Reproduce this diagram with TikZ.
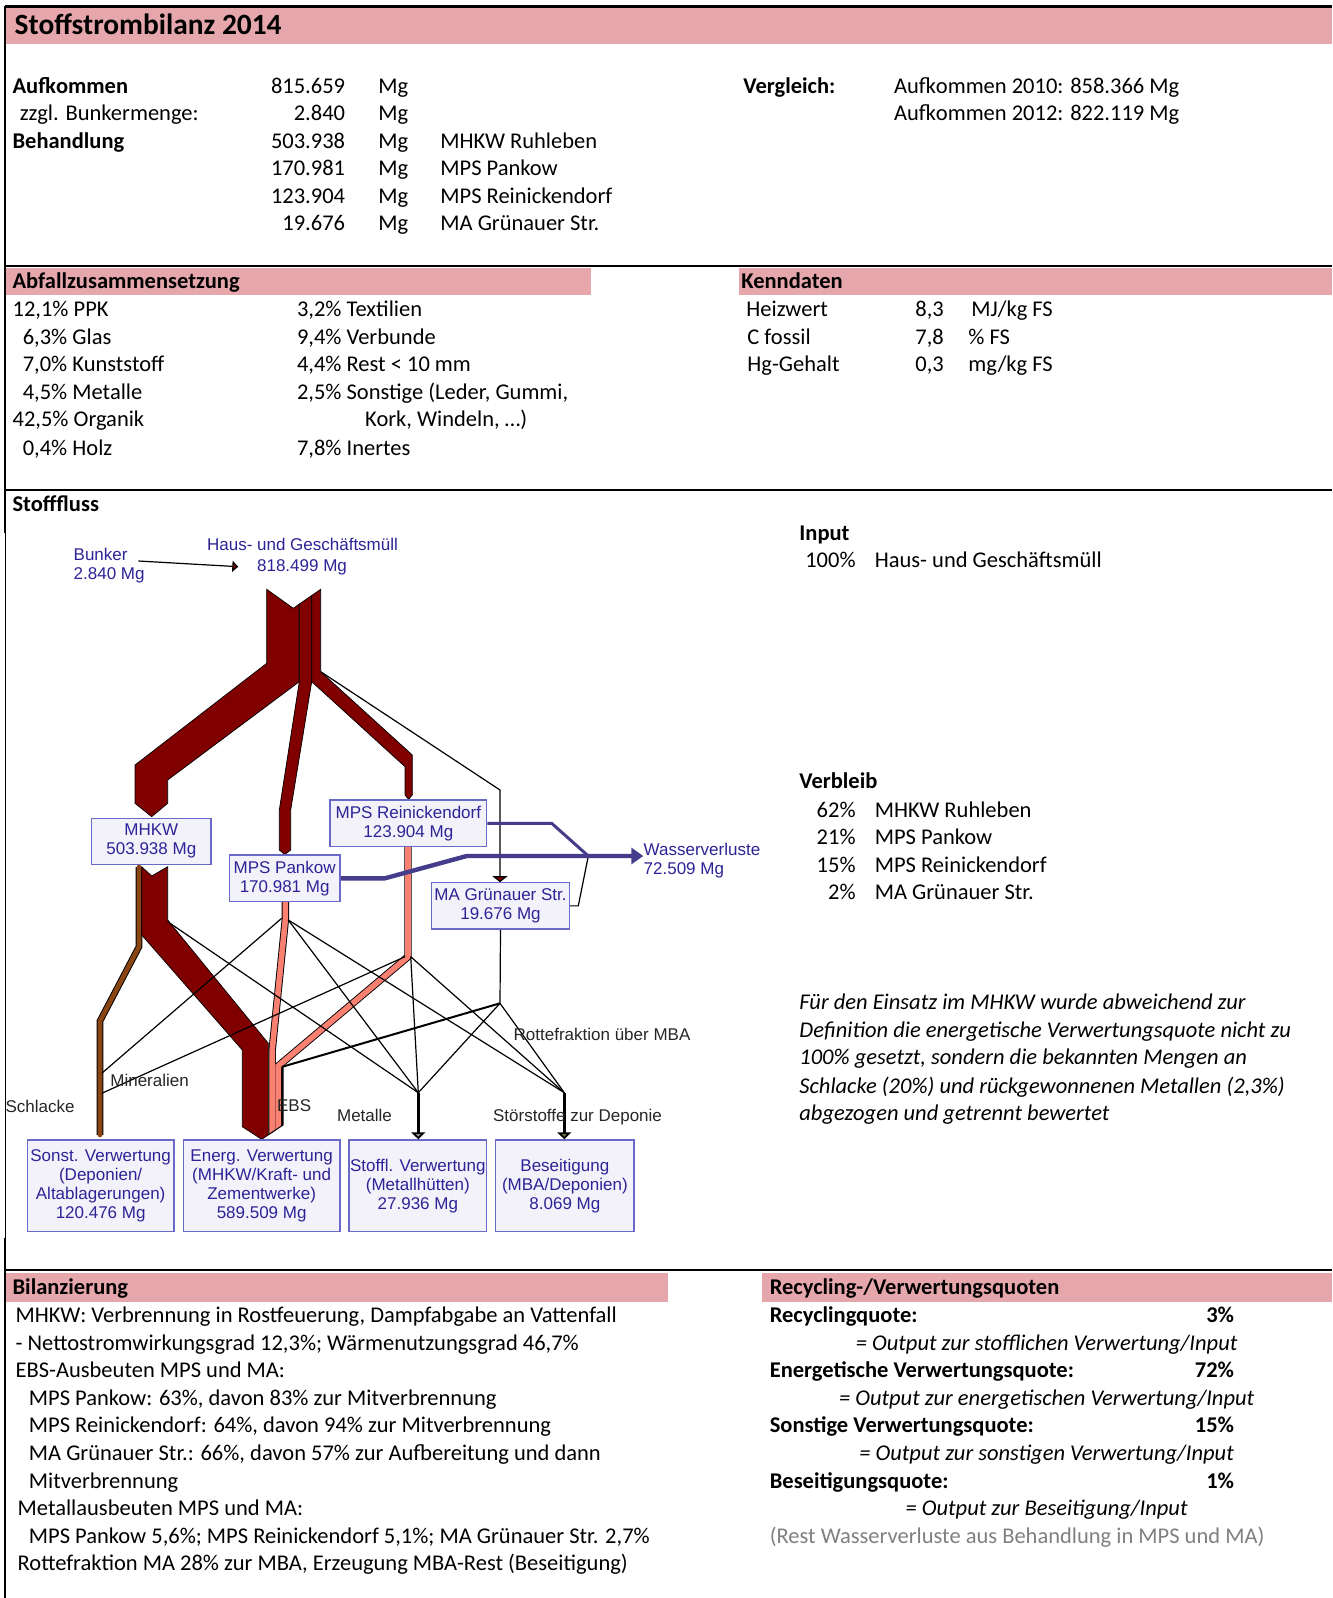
\documentclass[tikz,border=0pt]{standalone}
\usepackage{fontspec}
\setmainfont{Carlito}
\newfontfamily\stanfont{Liberation Sans}
\usetikzlibrary{arrows.meta}

\definecolor{bandpink}{RGB}{230,167,172}
\definecolor{flowred}{RGB}{128,0,0}
\definecolor{ebs}{RGB}{250,128,114}
\definecolor{slag}{RGB}{139,69,19}
\definecolor{stanblue}{RGB}{45,35,150}
\definecolor{boxline}{RGB}{105,105,200}
\definecolor{boxfill}{RGB}{243,242,250}
\definecolor{water}{RGB}{70,60,140}
\definecolor{notegray}{RGB}{128,128,128}
\definecolor{tipgray}{RGB}{150,150,150}
\definecolor{tipolive}{RGB}{110,130,70}

\tikzset{
  body/.style={inner sep=0pt, anchor=base west, font=\fontsize{11.25}{13.8}\selectfont},
  bodyb/.style={body, font=\fontsize{11.25}{13.8}\selectfont\bfseries},
  bodyi/.style={body, font=\fontsize{11.25}{13.8}\selectfont\itshape},
  rnum/.style={body, anchor=base east},
  rnumb/.style={bodyb, anchor=base east},
  hdtitle/.style={inner sep=0pt, anchor=base west, font=\fontsize{14.7}{17}\selectfont\bfseries},
  frameline/.style={line width=1.2pt, black},
  headband/.style={fill=bandpink},
  stan/.style={inner sep=0pt, font=\stanfont\fontsize{8.5}{9.6}\selectfont},
  stanlbl/.style={stan, text=stanblue, anchor=base west},
  flowlbl/.style={stan, text=black!85, anchor=base west},
  stanbox/.style={draw=boxline, fill=boxfill, line width=0.75pt, stan, text=stanblue, align=center},
  sankey/.style={fill=flowred, draw=black, line width=0.35pt, line join=miter},
  flowthin/.style={black, line width=0.6pt},
  flowmid/.style={black, line width=1pt},
}

\begin{document}
\begin{tikzpicture}[x=0.5pt,y=-0.5pt]
\useasboundingbox (0,0) rectangle (1332,1598);
\fill[white] (0,0) rectangle (1332,1598);

% ---------- section headers ----------
\fill[headband] (5,8) rectangle (1332,44);
\fill[headband] (5,268) rectangle (591,295.5);
\fill[headband] (739,268) rectangle (1332,295.5);
\fill[headband] (5,1273) rectangle (667.5,1301.5);
\fill[headband] (762,1273) rectangle (1332,1301.5);

% ---------- frame ----------
\draw[frameline] (5,6.5) -- (1332,6.5);
\draw[frameline] (5,266) -- (1332,266);
\draw[frameline] (5,490) -- (1332,490);
\draw[frameline] (5,1270) -- (1332,1270);
\draw[frameline] (5,6) -- (5,533);
\draw[black, line width=0.5pt] (5,533) -- (5,1238);
\draw[frameline] (5,1238) -- (5,1598);

% ---------- title and totals ----------
\node[hdtitle] (ttl) at (14.3,35) {Stoffstrombilanz 2014};

\node[bodyb] (aufk) at (12.2,93.5) {Aufkommen};
\node[rnum] (aufkv) at (345.5,93.5) {815.659};
\node[body] (aufku) at (378,93.5) {Mg};
\node[body] (bunk) at (19.4,121) {zzgl. Bunkermenge:};
\node[rnum] (bunkv) at (345.5,121) {2.840};
\node[body] (bunku) at (378,121) {Mg};
\node[bodyb] (beh) at (12.2,148.5) {Behandlung};
\node[rnum] (behv1) at (345.5,148.5) {503.938};
\node[body] (behu1) at (378,148.5) {Mg};
\node[body] (behn1) at (440,148.5) {MHKW Ruhleben};
\node[rnum] (behv2) at (345.5,176) {170.981};
\node[body] (behu2) at (378,176) {Mg};
\node[body] (behn2) at (440,176) {MPS Pankow};
\node[rnum] (behv3) at (345.5,203.5) {123.904};
\node[body] (behu3) at (378,203.5) {Mg};
\node[body] (behn3) at (440,203.5) {MPS Reinickendorf};
\node[rnum] (behv4) at (345.5,231) {19.676};
\node[body] (behu4) at (378,231) {Mg};
\node[body] (behn4) at (440,231) {MA Grünauer Str.};

\node[bodyb] (vgl) at (743,93.5) {Vergleich:};
\node[body] (vgl1) at (893.7,93.5) {Aufkommen 2010: 858.366 Mg};
\node[body] (vgl2) at (893.7,121) {Aufkommen 2012: 822.119 Mg};

% ---------- composition ----------
\node[bodyb] (abf) at (12.2,289) {Abfallzusammensetzung};
\node[body] (a1) at (12.2,317) {12,1\% PPK};
\node[body] (a2) at (22.4,344.5) {6,3\% Glas};
\node[body] (a3) at (22.4,372) {7,0\% Kunststoff};
\node[body] (a4) at (22.4,399.5) {4,5\% Metalle};
\node[body] (a5) at (12.2,427) {42,5\% Organik};
\node[body] (a6) at (22.4,455.5) {0,4\% Holz};
\node[body] (b1) at (296.6,317) {3,2\% Textilien};
\node[body] (b2) at (296.6,344.5) {9,4\% Verbunde};
\node[body] (b3) at (296.6,372) {4,4\% Rest < 10 mm};
\node[body] (b4) at (296.6,399.5) {2,5\% Sonstige (Leder, Gummi,};
\node[body] (b5) at (364.8,427) {Kork, Windeln, …)};
\node[body] (b6) at (296.6,455.5) {7,8\% Inertes};

\node[bodyb] (kenn) at (741,289) {Kenndaten};
\node[body] (k1) at (746,317) {Heizwert};
\node[body] (k1v) at (915,317) {8,3};
\node[body] (k1u) at (971,317) {MJ/kg FS};
\node[body] (k2) at (747,344.5) {C fossil};
\node[body] (k2v) at (915,344.5) {7,8};
\node[body] (k2u) at (968,344.5) {\% FS};
\node[body] (k3) at (747,372) {Hg-Gehalt};
\node[body] (k3v) at (915,372) {0,3};
\node[body] (k3u) at (968,372) {mg/kg FS};

% ---------- material flow section, right column ----------
\node[bodyb] (sf) at (12.2,511.5) {Stofffluss};
\node[bodyb] (inp) at (799,540) {Input};
\node[rnum] (inpv) at (856,567.5) {100\%};
\node[body] (inpn) at (874.4,567.5) {Haus- und Geschäftsmüll};
\node[bodyb] (vb) at (799,788.6) {Verbleib};
\node[rnum] (vb1v) at (856,817.2) {62\%};
\node[body] (vb1) at (874.4,817.2) {MHKW Ruhleben};
\node[rnum] (vb2v) at (856,844.7) {21\%};
\node[body] (vb2) at (874.4,844.7) {MPS Pankow};
\node[rnum] (vb3v) at (856,872.2) {15\%};
\node[body] (vb3) at (874.4,872.2) {MPS Reinickendorf};
\node[rnum] (vb4v) at (856,899.7) {2\%};
\node[body] (vb4) at (874.4,899.7) {MA Grünauer Str.};
\node[bodyi] (n1) at (799,1009.8) {Für den Einsatz im MHKW wurde abweichend zur};
\node[bodyi] (n2) at (799,1037.3) {Definition die energetische Verwertungsquote nicht zu};
\node[bodyi] (n3) at (799,1064.8) {100\% gesetzt, sondern die bekannten Mengen an};
\node[bodyi] (n4) at (799,1093.4) {Schlacke (20\%) und rückgewonnenen Metallen (2,3\%)};
\node[bodyi] (n5) at (799,1120.9) {abgezogen und getrennt bewertet};

% ---------- balance ----------
\node[bodyb] (bil) at (12.2,1294) {Bilanzierung};
\node[body] (l1) at (15.3,1322.5) {MHKW: Verbrennung in Rostfeuerung, Dampfabgabe an Vattenfall};
\node[body] (l2) at (15.3,1350.1) {- Nettostromwirkungsgrad 12,3\%; Wärmenutzungsgrad 46,7\%};
\node[body] (l3) at (15.3,1377.7) {EBS-Ausbeuten MPS und MA:};
\node[body] (l4) at (28.5,1405.3) {MPS Pankow: 63\%, davon 83\% zur Mitverbrennung};
\node[body] (l5) at (28.5,1432.9) {MPS Reinickendorf: 64\%, davon 94\% zur Mitverbrennung};
\node[body] (l6) at (28.5,1460.5) {MA Grünauer Str.: 66\%, davon 57\% zur Aufbereitung und dann};
\node[body] (l7) at (28.5,1488.1) {Mitverbrennung};
\node[body] (l8) at (17.3,1515.7) {Metallausbeuten MPS und MA:};
\node[body] (l9) at (28.5,1543.3) {MPS Pankow 5,6\%; MPS Reinickendorf 5,1\%; MA Grünauer Str. 2,7\%};
\node[body] (l10) at (17.3,1570.9) {Rottefraktion MA 28\% zur MBA, Erzeugung MBA-Rest (Beseitigung)};

% ---------- recycling rates ----------
\node[bodyb] (rq) at (769.4,1294) {Recycling-/Verwertungsquoten};
\node[bodyb] (q1) at (769.4,1322.5) {Recyclingquote:};
\node[rnumb] (q1v) at (1234.5,1322.5) {3\%};
\node[bodyi, anchor=base] (q1d) at (1046.6,1350.1) {= Output zur stofflichen Verwertung/Input};
\node[bodyb] (q2) at (769.4,1377.7) {Energetische Verwertungsquote:};
\node[rnumb] (q2v) at (1234.5,1377.7) {72\%};
\node[bodyi, anchor=base] (q2d) at (1046.6,1405.3) {= Output zur energetischen Verwertung/Input};
\node[bodyb] (q3) at (769.4,1432.9) {Sonstige Verwertungsquote:};
\node[rnumb] (q3v) at (1234.5,1432.9) {15\%};
\node[bodyi, anchor=base] (q3d) at (1046.6,1460.5) {= Output zur sonstigen Verwertung/Input};
\node[bodyb] (q4) at (769.4,1488.1) {Beseitigungsquote:};
\node[rnumb] (q4v) at (1234.5,1488.1) {1\%};
\node[bodyi, anchor=base] (q4d) at (1046.6,1515.7) {= Output zur Beseitigung/Input};
\node[body, text=notegray] (q5) at (769.4,1543.3) {(Rest Wasserverluste aus Behandlung in MPS und MA)};

% ================= Sankey diagram =================
% input labels
\node[stanlbl] (bunkA) at (73.3,560.4) {Bunker};
\node[stanlbl] (bunkB) at (73.3,579.7) {2.840 Mg};
\node[stan, text=stanblue, anchor=base] (hausA) at (302.5,551) {Haus- und Geschäftsmüll};
\node[stan, text=stanblue, anchor=base] (hausB) at (302,571) {818.499 Mg};
\coordinate (bk) at (138.3,561);
\coordinate (hm) at (238.3,566.7);
\draw[black, line width=0.6pt, -{Triangle[length=3pt,width=5.5pt,fill=flowred]}] (bk) -- (hm);

% upper stream: input split to the four plants
\filldraw[sankey] (266.7,589.3) -- (293.3,608.3) -- (299.3,604.1) -- (299.3,681.7)
  -- (167.7,780) -- (167.7,803.3) -- (151.7,816.7) -- (135,803.3) -- (135,765)
  -- (266.7,663.3) -- cycle;
\filldraw[sankey] (299.3,604.1) -- (311.7,595.5) -- (311.7,681.7) -- (290.7,810)
  -- (290.7,850) -- (284.8,854.5) -- (279.3,850) -- (279.3,810) -- (299.3,681.7) -- cycle;
\filldraw[sankey] (311.7,595.5) -- (320.7,589.3) -- (320.7,671.7) -- (412.3,755)
  -- (412.3,795) -- (408.6,799.3) -- (405,795) -- (405,766.7) -- (311.7,681.7) -- cycle;
\coordinate (masrc) at (320.7,671.7);
\coordinate (mabend) at (500,790);
\coordinate (matop) at (500,882.2);
\draw[black, line width=0.6pt, -{Triangle[length=3pt,width=7.5pt,fill=flowred]}]
  (masrc) -- (mabend) -- (matop);

% slag from MHKW
\draw[black, line width=3.3pt, line join=miter] (139,867) -- (139,946.7) -- (100,1021) -- (100,1135);
\draw[slag, line width=2.3pt, line join=miter, line cap=round] (139,867) -- (139,946.7) -- (100,1021) -- (100,1135);

% MHKW to energy recovery
\filldraw[sankey] (141.7,866.7) -- (151.7,876) -- (167.7,866.7) -- (167.7,920)
  -- (268.3,1043.3) -- (268.3,1134.9) -- (261.7,1139.3) -- (242.3,1126.7)
  -- (242.3,1050) -- (141.7,935) -- cycle;

% refuse-derived fuel from the MPS plants
\begin{scope}
  \clip (200,840) -- (450,840) -- (450,1115) -- (290,1120.3) -- (283,1125)
    -- (261.7,1139.3) -- (200,1099) -- cycle;
  \draw[black, line width=3.7pt, line join=miter] (285.3,902) -- (285.3,920) -- (272.2,1050) -- (272.2,1145);
  \draw[black, line width=3.7pt, line join=miter] (408,847) -- (408,956.7) -- (278.2,1066) -- (278.2,1145);
  \draw[ebs, line width=2.8pt, line join=miter] (285.3,902) -- (285.3,920) -- (272.2,1050) -- (272.2,1145);
  \draw[ebs, line width=2.8pt, line join=miter] (408,847) -- (408,956.7) -- (278.2,1066) -- (278.2,1145);
\end{scope}
\draw[black, line width=0.5pt] (268.3,1134.9) -- (283,1125);

% junctions
\coordinate (mhkwsrc) at (167.7,921.7);
\coordinate (pksrcL) at (281.7,918.3);
\coordinate (pksrcR) at (288.3,920);
\coordinate (rnsrcL) at (405,956.7);
\coordinate (rnsrcR) at (410.7,956.7);
\coordinate (maj) at (500,1003.3);
\coordinate (maebs) at (282.5,1066.7);
\coordinate (maebsend) at (282.5,1125.2);
\coordinate (minA) at (101.7,1073.3);
\coordinate (minB) at (101.7,1093.3);
\coordinate (jm) at (418.3,1092.7);
\coordinate (js) at (564.3,1092.7);

\draw[black, line width=1pt, line join=miter] (maj) -- (maebs) -- (maebsend);
\draw[flowthin] (mhkwsrc) -- (jm);
\draw[flowthin] (pksrcL) -- (minA);
\draw[flowthin] (pksrcR) -- (jm);
\draw[flowthin] (pksrcR) -- (js);
\draw[flowthin] (rnsrcL) -- (minB);
\draw[flowthin] (rnsrcR) -- (jm);
\draw[flowthin] (rnsrcR) -- (js);
\draw[flowthin] (maj) -- (jm);
\draw[flowthin] (maj) -- (js);

% water losses
\coordinate (wrn1) at (551.7,823.3);
\coordinate (wmerge) at (588.3,856);
\coordinate (wpk1) at (385,878.3);
\coordinate (wpk2) at (466.7,856);
\coordinate (wtip) at (643.3,856);
\coordinate (wma1) at (578.3,905.85);

% boxes
\node[stanbox, minimum width=59.65pt, minimum height=23pt] (mhkw) at (151.35,841.3) {MHKW\\503.938 Mg};
\node[stanbox, minimum width=55.35pt, minimum height=23.35pt] (pankow) at (284.65,878.35) {MPS Pankow\\170.981 Mg};
\node[stanbox, minimum width=78.35pt, minimum height=23.35pt] (rein) at (408.35,823.35) {MPS Reinickendorf\\123.904 Mg};
\node[stanbox, minimum width=68.8pt, minimum height=23.15pt] (ma) at (500.5,905.85) {MA Grünauer Str.\\19.676 Mg};
\node[stanbox, minimum width=73.35pt, minimum height=45.85pt] (sonst) at (100.65,1185.85) {Sonst. Verwertung\\(Deponien/\\Altablagerungen)\\120.476 Mg};
\node[stanbox, minimum width=78.35pt, minimum height=45.85pt] (energ) at (261.65,1185.85) {Energ. Verwertung\\(MHKW/Kraft- und\\Zementwerke)\\589.509 Mg};
\node[stanbox, minimum width=68.85pt, minimum height=45.85pt] (stoffl) at (417.85,1185.85) {Stoffl. Verwertung\\(Metallhütten)\\27.936 Mg};
\node[stanbox, minimum width=69.15pt, minimum height=45.85pt] (beseit) at (564.85,1185.85) {Beseitigung\\(MBA/Deponien)\\8.069 Mg};

\draw[flowthin] (ma.south) -- (maj);
\draw[black, line width=1.3pt, -{Triangle[length=3.5pt,width=7pt,fill=tipgray]}] (jm) -- (jm |- stoffl.north);
\draw[black, line width=1.3pt, -{Triangle[length=3.5pt,width=7pt,fill=tipolive]}] (js) -- (js |- beseit.north);

\draw[water, line width=1.5pt, line join=round] (rein.east) -- (wrn1) -- (wmerge);
\draw[black, line width=0.6pt] (ma.east) -- (wma1) -- (wmerge);
\draw[water, line width=2.2pt, line join=round, -{Triangle[length=6pt,width=8pt,fill=water]}]
  (pankow.east) -- (wpk1) -- (wpk2) -- (wtip);
\node[stanlbl] (wvA) at (643.3,855.3) {Wasserverluste};
\node[stanlbl] (wvB) at (643.3,874.3) {72.509 Mg};

% flow labels
\node[flowlbl] (lschl) at (5.1,1112) {Schlacke};
\node[flowlbl] (lmin) at (110,1086) {Mineralien};
\node[flowlbl] (lebs) at (276.7,1111) {EBS};
\node[flowlbl] (lmet) at (336.7,1121) {Metalle};
\node[flowlbl] (lstoer) at (492.7,1121) {Störstoffe zur Deponie};
\node[flowlbl] (lrotte) at (513.3,1040) {Rottefraktion über MBA};
\end{tikzpicture}
\end{document}
